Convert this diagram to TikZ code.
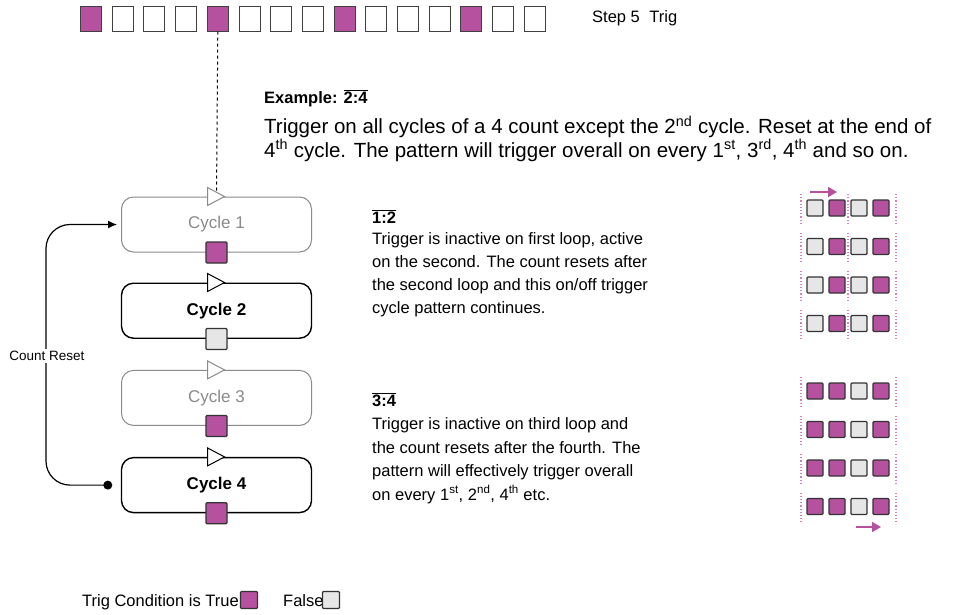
\documentclass[tikz,border=0pt]{standalone}
\usepackage{fontspec}
\setmainfont{Liberation Sans}
\usetikzlibrary{positioning, arrows.meta, calc}
\definecolor{trig}{HTML}{B5519F}
\definecolor{idle}{HTML}{E6E6E6}
\definecolor{dim}{HTML}{8A8A8A}
\definecolor{dotc}{HTML}{D680C2}

\begin{document}
\begin{tikzpicture}[x=1pt, y=-1pt,
  font=\fontsize{16.5}{21}\selectfont, >={Latex[length=9pt, width=8pt]},
  cell/.style={draw=black!75, line width=1pt, minimum width=21pt, minimum height=25pt, inner sep=0pt},
  on/.style={cell, fill=trig},
  off/.style={cell, fill=white},
  pat/.style={draw=black!80, line width=1.2pt, minimum size=16pt, inner sep=0pt, rounded corners=1pt},
  cyc/.style={draw=dim, line width=1pt, rounded corners=12pt, minimum width=190pt, minimum height=55pt, text=dim, font=\fontsize{17}{21}\selectfont},
  cycon/.style={draw=black, line width=1.4pt, rounded corners=12pt, minimum width=190pt, minimum height=55pt, font=\fontsize{17}{21}\selectfont\bfseries},
  txt/.style={anchor=base west, align=left, inner sep=0pt},
  mv/.style={trig, line width=1.5pt, -{Triangle[length=9pt, width=10pt]}},
]
  \useasboundingbox (0,0) rectangle (957,614);

  % step row
  \foreach \i in {0,...,14} {
    \pgfmathtruncatemacro\m{mod(\i,4)}
    \ifnum\m=0 \def\st{on}\else\def\st{off}\fi
    \node[\st] (t\i) at (91+31.7*\i, 18.5) {};
  }
  \node[anchor=west, inner sep=0pt] (stp) at (592, 18) {Step 5\hspace{5pt} Trig};

  % cycles
  \node[cyc] (c1) at (216.5, 224.5) {Cycle 1};
  \node[cycon, below=30pt of c1] (c2) {Cycle 2};
  \node[cyc, below=31pt of c2] (c3) {Cycle 3};
  \node[cycon, below=31pt of c3] (c4) {Cycle 4};

  \draw[line width=1pt, dash pattern=on 3pt off 3pt] (t4.south) -- (c1.north);

  \foreach \c/\col/\f in {c1/dim/trig, c2/black/idle, c3/dim/trig, c4/black/trig} {
    \draw[draw=\col, fill=white, line width=1pt] ($(\c.north)+(-9,-9)$) -- ($(\c.north)+(8,0)$) -- ($(\c.north)+(-9,9)$) -- cycle;
    \node[pat, fill=\f, minimum size=21pt] (b\c) at (\c.south) {};
  }

  % count reset loop
  \coordinate (rs) at ($(c4.west)+(-13,0)$);
  \coordinate (ar) at ($(c1.west)+(-4,0)$);
  \coordinate (lx) at (46, 0);
  \draw[->, line width=1.2pt, rounded corners=24pt] (rs) -- (rs -| lx) -- (ar -| lx) -- (ar);
  \fill (rs) circle (4.5pt);
  \node[fill=white, inner sep=2pt, font=\fontsize{13.5}{15}\selectfont] (cr) at (47, 356) {Count Reset};

  % example text
  \node[txt] (ex) at (264, 103) {\textbf{Example: }$\overline{\mbox{\bfseries 2:4}}$};
  \node[txt, font=\fontsize{20.5}{21}\selectfont] (exd) at (264, 157) {Trigger on all cycles of a 4 count except the 2\textsuperscript{nd} cycle. Reset at the end of\\
    4\textsuperscript{th} cycle. The pattern will trigger overall on every 1\textsuperscript{st}, 3\textsuperscript{rd}, 4\textsuperscript{th} and so on.};

  \node[txt] (h1) at (372, 223) {$\overline{\mbox{\bfseries 1:2}}$};
  \node[txt, font=\fontsize{16.5}{23}\selectfont] (d1) at (372, 313) {Trigger is inactive on first loop, active\\
    on the second. The count resets after\\
    the second loop and this on/off trigger\\
    cycle pattern continues.};

  \node[txt] (h2) at (372, 406) {$\overline{\mbox{\bfseries 3:4}}$};
  \node[txt, font=\fontsize{16.5}{23.5}\selectfont] (d2) at (372, 500) {Trigger is inactive on third loop and\\
    the count resets after the fourth. The\\
    pattern will effectively trigger overall\\
    on every 1\textsuperscript{st}, 2\textsuperscript{nd}, 4\textsuperscript{th} etc.};

  % patterns
  \foreach \r/\y in {1/208, 2/246.5, 3/285, 4/323.5} {
    \foreach \k/\f in {1/idle, 2/trig, 3/idle, 4/trig}
      \node[pat, fill=\f] (u\r\k) at (793+22*\k, \y) {};
    \foreach \x in {801, 848, 896}
      \draw[dotc, dotted, line width=1.2pt] (\x, \y-14) -- (\x, \y+15);
  }
  \foreach \r/\y in {1/391, 2/429.5, 3/468, 4/506.5} {
    \foreach \k/\f in {1/trig, 2/trig, 3/idle, 4/trig}
      \node[pat, fill=\f] (l\r\k) at (793+22*\k, \y) {};
    \foreach \x in {801, 896}
      \draw[dotc, dotted, line width=1.2pt] (\x, \y-14) -- (\x, \y+15);
  }
  \coordinate (ua1) at (810, 192);
  \coordinate (ua2) at (837, 192);
  \draw[mv] (ua1) -- (ua2);
  \coordinate (la1) at (856, 527);
  \coordinate (la2) at (881, 527);
  \draw[mv] (la1) -- (la2);

  % legend
  \node[txt] (lg1) at (82, 606) {Trig Condition is True};
  \node[pat, fill=trig, minimum size=17pt] (lg2) at (249, 600) {};
  \node[txt] (lg3) at (283, 606) {False};
  \node[pat, fill=idle, minimum size=17pt] (lg4) at (331, 600) {};
\end{tikzpicture}
\end{document}
